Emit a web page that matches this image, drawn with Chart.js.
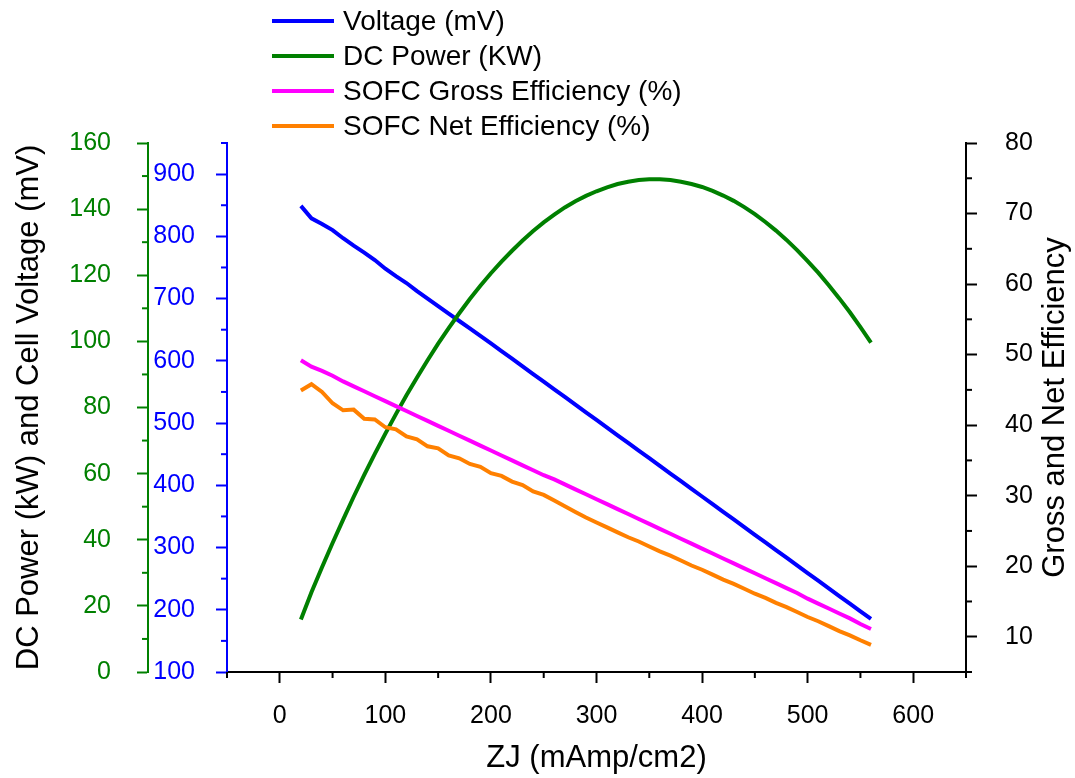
<!DOCTYPE html>
<html>
<head>
<meta charset="utf-8">
<script src="https://cdn.jsdelivr.net/npm/chart.js@4.4.0/dist/chart.umd.min.js"></script>
<style>
  html, body { margin: 0; padding: 0; background: #fff; }
  #wrap { position: relative; width: 1075px; height: 778px; }
  #legend { position: absolute; left: 272px; top: 4px; font-family: 'Liberation Sans', Arial, sans-serif; font-size: 28px; color: #000; }
  .row { display: flex; align-items: center; height: 34.8px; white-space: nowrap; }
  .swatch { width: 62px; height: 4px; margin-right: 9px; }
</style>
</head>
<body>
<div id="wrap">
  <canvas id="chart" width="1075" height="778"></canvas>
  <div id="legend"></div>
</div>
<script>
// SOFC polarisation data (x every 10 mAmp/cm2)
var currentDensity = [20, 30, 40, 50, 60, 70, 80, 90, 100, 110, 120, 130, 140, 150, 160, 170, 180, 190, 200,
  210, 220, 230, 240, 250, 260, 270, 280, 290, 300, 310, 320, 330, 340, 350, 360, 370, 380, 390, 400,
  410, 420, 430, 440, 450, 460, 470, 480, 490, 500, 510, 520, 530, 540, 550, 560];

var voltage = [849, 829, 820, 810, 797, 785, 774, 762, 748, 736, 725, 712, 700, 688, 676, 664, 652, 640, 628,
  615.7, 603.4, 591.1, 578.8, 566.5, 554.2, 541.9, 529.6, 517.3, 505, 492.7, 480.4, 468.1, 455.8, 443.5, 431.2, 418.9, 406.6, 394.3, 382,
  369.7, 357.4, 345.1, 332.8, 320.5, 308.2, 295.9, 283.6, 271.3, 259, 246.7, 234.4, 222.1, 209.8, 197.5, 185.2];

var dcPower = [15.9, 24.1, 31.7, 39.0, 46.1, 53.0, 59.6, 66.0, 72.1, 78.0, 83.7, 89.1, 94.3, 99.3, 104.0, 108.5, 112.8, 116.8, 120.6,
  124.1, 127.4, 130.5, 133.4, 136.0, 138.3, 140.5, 142.4, 144.0, 145.4, 146.6, 147.6, 148.3, 148.8, 149.0, 149.0, 148.8, 148.3, 147.6, 146.7,
  145.5, 144.1, 142.5, 140.6, 138.5, 136.1, 133.5, 130.7, 127.6, 124.3, 120.8, 117.0, 113.0, 108.8, 104.3, 99.6];

var grossEff = [49.2, 48.3, 47.7, 47.0, 46.2, 45.5, 44.8, 44.1, 43.4, 42.7, 42.0, 41.3, 40.6, 39.9, 39.2, 38.5, 37.8, 37.1, 36.4,
  35.7, 35.0, 34.3, 33.6, 32.9, 32.3, 31.6, 30.9, 30.2, 29.5, 28.8, 28.1, 27.4, 26.7, 26.0, 25.3, 24.6, 23.9, 23.2, 22.5,
  21.8, 21.1, 20.4, 19.7, 19.0, 18.3, 17.6, 16.9, 16.2, 15.4, 14.7, 14.0, 13.3, 12.6, 11.8, 11.1];

var netEff = [44.9, 45.8, 44.7, 43.1, 42.1, 42.2, 40.9, 40.8, 39.7, 39.4, 38.4, 38.0, 37.0, 36.7, 35.7, 35.3, 34.5, 34.1, 33.2,
  32.8, 32.0, 31.5, 30.6, 30.1, 29.3, 28.5, 27.7, 26.9, 26.2, 25.5, 24.8, 24.1, 23.5, 22.8, 22.1, 21.5, 20.8, 20.1, 19.5,
  18.8, 18.1, 17.5, 16.8, 16.1, 15.5, 14.8, 14.2, 13.5, 12.8, 12.2, 11.5, 10.8, 10.2, 9.5, 8.85];

var seriesNames = ['Voltage (mV)', 'DC Power (KW)', 'SOFC Gross Efficiency (%)', 'SOFC Net Efficiency (%)'];
var seriesColors = ['#0000ff', '#008000', '#ff00ff', '#ff8000'];
var rightTitle = 'Gross and Net Efficiency';

var FONT = "'Liberation Sans', Arial, sans-serif";
Chart.defaults.font.family = FONT;

function pairs(ys) {
  return ys.map(function(y, i) { return { x: currentDensity[i], y: y }; });
}

// major tick marks drawn by chart.js, minor ones hidden here and drawn short by the plugin
function majorColor(every, color) {
  return function(c) {
    if (!c.tick) return color;
    return Math.abs(c.tick.value % every) < 1e-6 ? color : 'rgba(0,0,0,0)';
  };
}
function majorLabel(every) {
  return function(v) { return Math.abs(v % every) < 1e-6 ? v : ''; };
}

var minorTicks = {
  id: 'minorTicks',
  afterDraw: function(chart) {
    var ctx = chart.ctx;
    var defs = [
      { id: 'x', every: 100, color: '#000', side: 'bottom' },
      { id: 'yP', every: 20, color: '#008000', side: 'left' },
      { id: 'yV', every: 100, color: '#0000ff', side: 'left' },
      { id: 'yE', every: 10, color: '#000', side: 'right' }
    ];
    ctx.save();
    ctx.lineWidth = 2;
    defs.forEach(function(d) {
      var s = chart.scales[d.id];
      ctx.strokeStyle = d.color;
      s.ticks.forEach(function(t) {
        if (Math.abs(t.value % d.every) < 1e-6) return;
        var p = s.getPixelForValue(t.value);
        ctx.beginPath();
        if (d.side === 'bottom') { ctx.moveTo(p, s.top); ctx.lineTo(p, s.top + 6); }
        else if (d.side === 'left') { ctx.moveTo(s.right, p); ctx.lineTo(s.right - 6, p); }
        else { ctx.moveTo(s.left, p); ctx.lineTo(s.left + 6, p); }
        ctx.stroke();
      });
    });

    // right axis title reads bottom-to-top in the original
    var r = chart.scales.yE;
    var area = chart.chartArea;
    ctx.translate(r.right - 20, (area.top + area.bottom) / 2);
    ctx.rotate(-Math.PI / 2);
    ctx.fillStyle = '#000';
    ctx.font = '31px ' + FONT;
    ctx.textAlign = 'center';
    ctx.textBaseline = 'middle';
    ctx.fillText(rightTitle, 0, 0);
    ctx.restore();
  }
};

function buildLegend() {
  var box = document.getElementById('legend');
  seriesNames.forEach(function(name, i) {
    var row = document.createElement('div');
    row.className = 'row';
    row.innerHTML = '<span class="swatch" style="background:' + seriesColors[i] + '"></span><span>' + name + '</span>';
    box.appendChild(row);
  });
}

function lineSet(label, data, color, axis, order) {
  return { label: label, data: pairs(data), borderColor: color, backgroundColor: color, borderWidth: 4,
    pointRadius: 0, tension: 0, fill: false, yAxisID: axis, order: order };
}

buildLegend();

new Chart(document.getElementById('chart').getContext('2d'), {
  type: 'line',
  data: {
    datasets: [
      lineSet(seriesNames[0], voltage, seriesColors[0], 'yV', 3),
      lineSet(seriesNames[1], dcPower, seriesColors[1], 'yP', 2),
      lineSet(seriesNames[2], grossEff, seriesColors[2], 'yE', 1),
      lineSet(seriesNames[3], netEff, seriesColors[3], 'yE', 0)
    ]
  },
  options: {
    responsive: false,
    animation: false,
    layout: { padding: { top: 143, left: 0, right: 0, bottom: 0 } },
    plugins: { legend: { display: false }, tooltip: { enabled: false } },
    scales: {
      x: {
        type: 'linear', position: 'bottom', min: -50, max: 650,
        ticks: { stepSize: 50, autoSkip: false, maxRotation: 0, padding: 18, color: '#000', font: { size: 25 }, callback: majorLabel(100) },
        grid: { drawOnChartArea: false, tickLength: 11, tickWidth: 2, tickColor: majorColor(100, '#000') },
        border: { display: true, color: '#000', width: 2 },
        title: { display: true, text: 'ZJ (mAmp/cm2)', color: '#000', font: { size: 31 }, padding: { top: 0, bottom: 1 } },
        afterFit: function(s) { s.height = 106; }
      },
      yP: {
        type: 'linear', position: 'left', weight: 1, min: 0, max: 160,
        ticks: { stepSize: 10, autoSkip: false, padding: 26, color: '#008000', font: { size: 25 }, callback: majorLabel(20) },
        grid: { drawOnChartArea: false, tickLength: 11, tickWidth: 2, tickColor: majorColor(20, '#008000') },
        border: { display: true, color: '#008000', width: 2 },
        title: { display: true, text: 'DC Power (kW) and Cell Voltage (mV)', color: '#000', font: { size: 31 }, padding: { top: 11, bottom: 0 } },
        afterFit: function(s) { s.width = 148; }
      },
      yV: {
        type: 'linear', position: 'left', weight: 0, min: 100, max: 950,
        ticks: { stepSize: 50, autoSkip: false, padding: 21, color: '#0000ff', font: { size: 25 }, callback: majorLabel(100) },
        grid: { drawOnChartArea: false, tickLength: 11, tickWidth: 2, tickColor: majorColor(100, '#0000ff') },
        border: { display: true, color: '#0000ff', width: 2 },
        afterFit: function(s) { s.width = 79; }
      },
      yE: {
        type: 'linear', position: 'right', min: 5, max: 80,
        ticks: { stepSize: 5, autoSkip: false, padding: 28, color: '#000', font: { size: 25 }, callback: majorLabel(10) },
        grid: { drawOnChartArea: false, tickLength: 11, tickWidth: 2, tickColor: majorColor(10, '#000') },
        border: { display: true, color: '#000', width: 2 },
        afterFit: function(s) { s.width = 109; }
      }
    }
  },
  plugins: [minorTicks]
});
</script>
</body>
</html>
